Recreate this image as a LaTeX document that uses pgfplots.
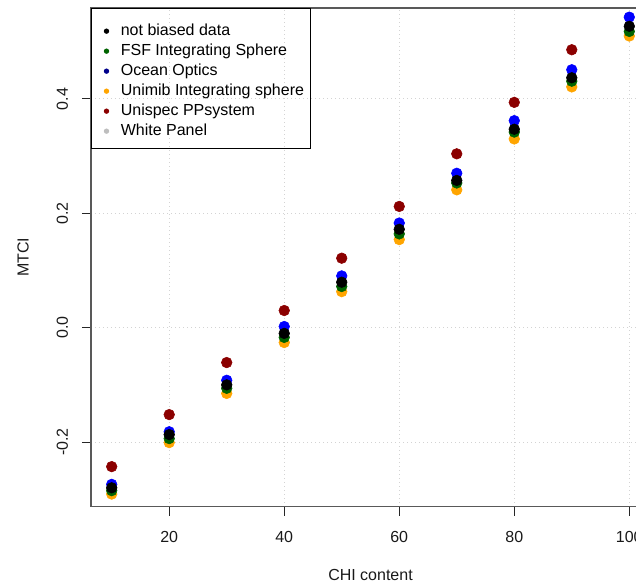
\documentclass[border=0pt]{standalone}
\usepackage{pgfplots}
\pgfplotsset{compat=1.18}
\usepackage{fontspec}
\setmainfont{Liberation Sans}

\definecolor{rdarkgreen}{HTML}{006400}
\definecolor{rdarkred}{HTML}{8B0000}
\definecolor{rdarkblue}{HTML}{00008B}
\definecolor{rblue}{HTML}{0000FF}
\definecolor{rorange}{HTML}{FFA500}
\definecolor{rgray}{HTML}{BEBEBE}
\definecolor{gridgray}{HTML}{D3D3D3}

% MTCI against chlorophyll content, one column per data source
% x: CHI content; nb: not biased data; fsf: FSF sphere; oo: Ocean Optics;
% um: Unimib sphere; us: Unispec PPsystem; wp: White Panel
\pgfplotstableread{
x    nb      fsf     oo      um      us      wp
10  -0.280  -0.285  -0.274  -0.291  -0.243  -0.280
20  -0.187  -0.194  -0.182  -0.201  -0.152  -0.187
30  -0.100  -0.106  -0.092  -0.115  -0.061  -0.100
40  -0.010  -0.017   0.002  -0.026   0.030  -0.010
50   0.0795  0.072   0.0905  0.063   0.1215  0.0795
60   0.172   0.164   0.183   0.154   0.212   0.172
70   0.2575  0.253   0.270   0.241   0.304   0.2575
80   0.347   0.342   0.362   0.330   0.394   0.347
90   0.437   0.431   0.451   0.421   0.486   0.437
100  0.527   0.518   0.543   0.510   0.578   0.527
}\mtci

\begin{document}
\begin{tikzpicture}
\begin{axis}[
  at={(0,0)}, anchor=south west,
  scale only axis,
  width=419.25pt, height=374pt,
  xmin=6.4, xmax=103.6,
  ymin=-0.313, ymax=0.559,
  xtick={20,40,60,80,100},
  xticklabels={20,40,60,80,100},
  ytick={-0.2,0,0.2,0.4},
  yticklabels={-0.2,0.0,0.2,0.4},
  tick align=outside,
  major tick length=6.75pt,
  xtick pos=bottom, ytick pos=left,
  tick style={black!85, line width=0.75pt},
  axis line style={black!65, line width=0.9pt},
  every tick label/.append style={font=\fontsize{12}{14}\selectfont, text=black!90},
  xticklabel style={anchor=base},
  xticklabel shift=20pt,
  yticklabel style={rotate=90, anchor=base},
  yticklabel shift=10.6pt,
  grid=major,
  major grid style={color=gridgray, line width=0.75pt, dash pattern=on 0.75pt off 2.25pt},
  axis on top,
  xlabel={CHI content},
  ylabel={MTCI},
  label style={font=\fontsize{12}{14}\selectfont, text=black!90},
  xlabel style={at={([yshift=-55.5pt]axis description cs:0.5,0)}, anchor=base},
  ylabel style={at={([xshift=-46.7pt]axis description cs:0,0.5)}, anchor=base, rotate=0},
  dotimg/.style={legend image code/.code={
      \path[use as bounding box, draw=none, fill=none] (-6.75pt,-5.6pt) rectangle (10.75pt,9.4pt);
      \fill (0,0) circle (1.6pt);}},
  legend cell align=left,
  legend style={at={(0,1)}, anchor=north west, draw=black, fill=none,
    line width=0.75pt,
    inner xsep=4.5pt, inner ysep=7.6pt, row sep=0pt,
    font=\fontsize{12}{14}\selectfont,
    nodes={inner sep=0pt, text height=8.7pt, text depth=2.5pt}},
  every axis plot/.append style={only marks, mark=*, mark size=4pt},
]
% points, drawn so that the not biased data lie on top
\addplot[rgray, forget plot] table[x=x, y=wp] {\mtci};
\addplot[rorange, forget plot] table[x=x, y=um] {\mtci};
\addplot[rdarkgreen, forget plot] table[x=x, y=fsf] {\mtci};
\addplot[rblue, forget plot] table[x=x, y=oo] {\mtci};
\addplot[rdarkred, forget plot] table[x=x, y=us] {\mtci};
\addplot[black, forget plot] table[x=x, y=nb] {\mtci};

% legend keys
\addlegendimage{black, dotimg}
\addlegendentry{not biased data}
\addlegendimage{rdarkgreen, dotimg}
\addlegendentry{FSF Integrating Sphere}
\addlegendimage{rdarkblue, dotimg}
\addlegendentry{Ocean Optics}
\addlegendimage{rorange, dotimg}
\addlegendentry{Unimib Integrating sphere}
\addlegendimage{rdarkred, dotimg}
\addlegendentry{Unispec PPsystem}
\addlegendimage{rgray, dotimg}
\addlegendentry{White Panel}
\end{axis}
\pgfresetboundingbox
\path (-68.25pt,-58.75pt) rectangle (408.75pt,380pt);
\end{tikzpicture}
\end{document}
